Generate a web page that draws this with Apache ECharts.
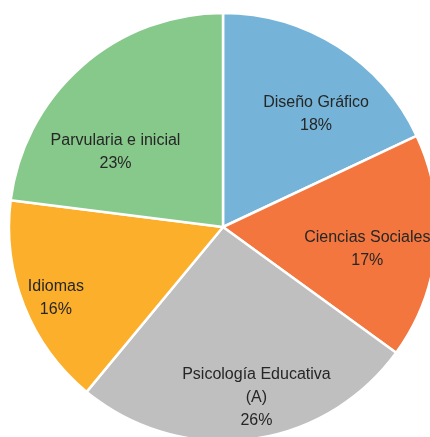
<!DOCTYPE html>
<html>
<head>
<meta charset="utf-8">
<script src="https://cdn.jsdelivr.net/npm/echarts@6/dist/echarts.min.js"></script>
<style>
  html, body { margin: 0; padding: 0; background: #fff; }
  #chart { width: 430px; height: 437px; }
</style>
</head>
<body>
<div id="chart"></div>
<script>
// categorias y porcentajes
var categories = ['Diseño Gráfico', 'Ciencias Sociales', 'Psicología Educativa\n(A)', 'Idiomas', 'Parvularia e inicial'];
var values = [18, 17, 26, 16, 23];
var colors = ['#75B4D8', '#F2763E', '#BFBFBF', '#FBAF2B', '#87C98B'];
// ajuste fino de las etiquetas (estilo "mejor ajuste" de Excel)
var labelNudge = [[10, 18], [-10, 8], [14, 17], [-23, 14], [-5, 41]];

var myChart = echarts.init(document.getElementById('chart'));

var pieData = categories.map(function (c, i) {
  return { name: c, value: values[i] };
});
var labelData = categories.map(function (c, i) {
  return { name: c, value: values[i], label: { offset: labelNudge[i] } };
});

var option = {
  animation: false,
  color: colors,
  series: [{
    type: 'pie',
    center: [223, 227],
    radius: [0, 214],
    startAngle: 90,
    clockwise: true,
    silent: true,
    itemStyle: { borderColor: '#fff', borderWidth: 2.5 },
    label: { show: false },
    labelLine: { show: false },
    data: pieData
  }, {
    // serie transparente solo para colocar las etiquetas
    type: 'pie',
    center: [223, 227],
    radius: [90, 214],
    startAngle: 90,
    clockwise: true,
    silent: true,
    itemStyle: { color: 'rgba(0,0,0,0)', borderWidth: 0 },
    label: {
      show: true,
      position: 'inside',
      formatter: '{b}\n{d}%',
      color: '#262626',
      fontFamily: 'Liberation Sans',
      fontSize: 16,
      lineHeight: 23
    },
    labelLine: { show: false },
    data: labelData
  }]
};

myChart.setOption(option);
</script>
</body>
</html>
